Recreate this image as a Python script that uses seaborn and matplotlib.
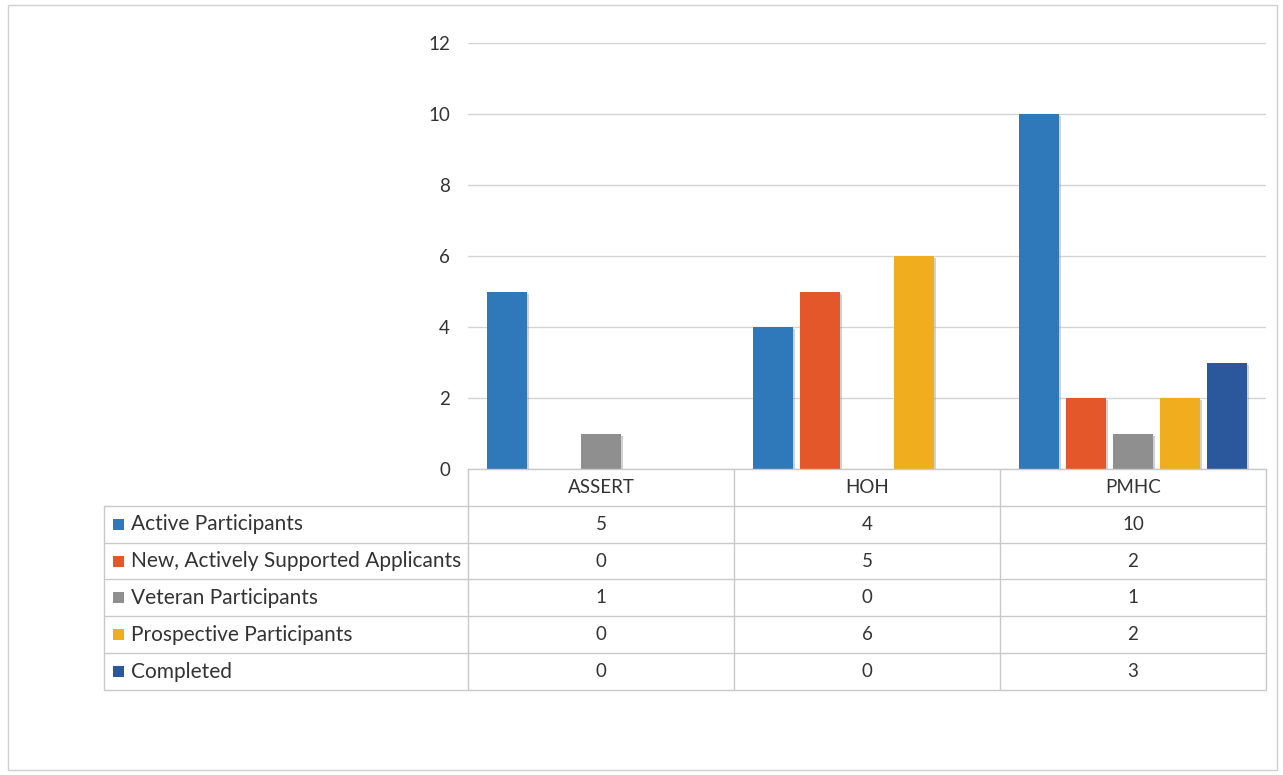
import matplotlib
matplotlib.use("Agg")
import matplotlib.pyplot as plt
import matplotlib.patheffects as pe
import seaborn as sns
import pandas as pd
from matplotlib.patches import Rectangle

categories = ["ASSERT", "HOH", "PMHC"]
series = ["Active Participants", "New, Actively Supported Applicants",
          "Veteran Participants", "Prospective Participants", "Completed"]
active = [5, 4, 10]
new_applicants = [0, 5, 2]
veteran = [1, 0, 1]
prospective = [0, 6, 2]
completed = [0, 0, 3]
values = [active, new_applicants, veteran, prospective, completed]
colors = ["#2F78BA", "#E4572B", "#8F8F8F", "#F0AE1E", "#2B589C"]
y_ticks = [0, 2, 4, 6, 8, 10, 12]

rows = []
for s, vals in zip(series, values):
    for c, v in zip(categories, vals):
        rows.append({"category": c, "series": s, "value": v})
df = pd.DataFrame(rows)

sns.set_theme(style="white")
plt.rcParams["font.family"] = ["Lato", "DejaVu Sans"]
txt_c = "#333333"

W, H = 1283, 775
fig = plt.figure(figsize=(W / 100, H / 100), dpi=100)
fig.patch.set_facecolor("white")

# outer chart border
fig.add_artist(Rectangle((8 / W, 5 / H), (W - 14) / W, (H - 10) / H,
                         transform=fig.transFigure, fill=False,
                         edgecolor="#d0d0d0", linewidth=1))

px_left, px_right, px_top, px_bottom = 468, 1266, 43, 469
ax = fig.add_axes([px_left / W, (H - px_bottom) / H,
                   (px_right - px_left) / W, (px_bottom - px_top) / H])
sns.barplot(data=df, x="category", y="value", hue="series", palette=colors,
            order=categories, hue_order=series, width=0.88, gap=0.15,
            ax=ax, legend=False, saturation=1, edgecolor="none")
for p in ax.patches:
    p.set_path_effects([pe.SimplePatchShadow(offset=(1.5, -1.5), shadow_rgbFace="#9a9a9a", alpha=0.45),
                        pe.Normal()])
ax.set_ylim(0, 12)
ax.set_xlim(-0.5, 2.5)
ax.set_yticks(y_ticks)
ax.set_yticklabels([str(t) for t in y_ticks], fontsize=13.5, color=txt_c)
ax.tick_params(axis="y", length=0, pad=13)
ax.set_xticks([])
ax.set_xlabel("")
ax.set_ylabel("")
ax.yaxis.grid(True, color="#d4d4d4", linewidth=1)
ax.set_axisbelow(True)
for sp in ax.spines.values():
    sp.set_visible(False)

# data table
t_left, t_right, t_top, t_bottom = 104, 1266, 469, 690
tax = fig.add_axes([t_left / W, (H - t_bottom) / H,
                    (t_right - t_left) / W, (t_bottom - t_top) / H])
tax.set_xlim(t_left, t_right)
tax.set_ylim(t_bottom, t_top)
tax.axis("off")
line_c = "#c9c9c9"
col_edges = [468, 734, 1000, 1266]
n_rows = len(series) + 1
row_h = (t_bottom - t_top) / n_rows
row_edges = [t_top + i * row_h for i in range(n_rows + 1)]

def seg(xs, ys):
    tax.plot(xs, ys, color=line_c, lw=1, clip_on=False)

seg([col_edges[0], col_edges[-1]], [row_edges[0], row_edges[0]])
for x in col_edges:
    seg([x, x], [row_edges[0], row_edges[-1]])
seg([t_left, t_left], [row_edges[1], row_edges[-1]])
for y in row_edges[1:]:
    seg([t_left, t_right], [y, y])

for j, c in enumerate(categories):
    xc = (col_edges[j] + col_edges[j + 1]) / 2
    tax.text(xc, (row_edges[0] + row_edges[1]) / 2, c, ha="center", va="center",
             fontsize=13.5, color=txt_c)
for i, (s, vals, col) in enumerate(zip(series, values, colors)):
    yc = (row_edges[i + 1] + row_edges[i + 2]) / 2
    tax.add_patch(Rectangle((113, yc - 5.5), 11, 11, facecolor=col, edgecolor="none"))
    tax.text(131, yc, s, ha="left", va="center", fontsize=15, color=txt_c)
    for j, v in enumerate(vals):
        xc = (col_edges[j] + col_edges[j + 1]) / 2
        tax.text(xc, yc, str(v), ha="center", va="center", fontsize=13.5, color=txt_c)

fig.savefig("out.png", dpi=100)
